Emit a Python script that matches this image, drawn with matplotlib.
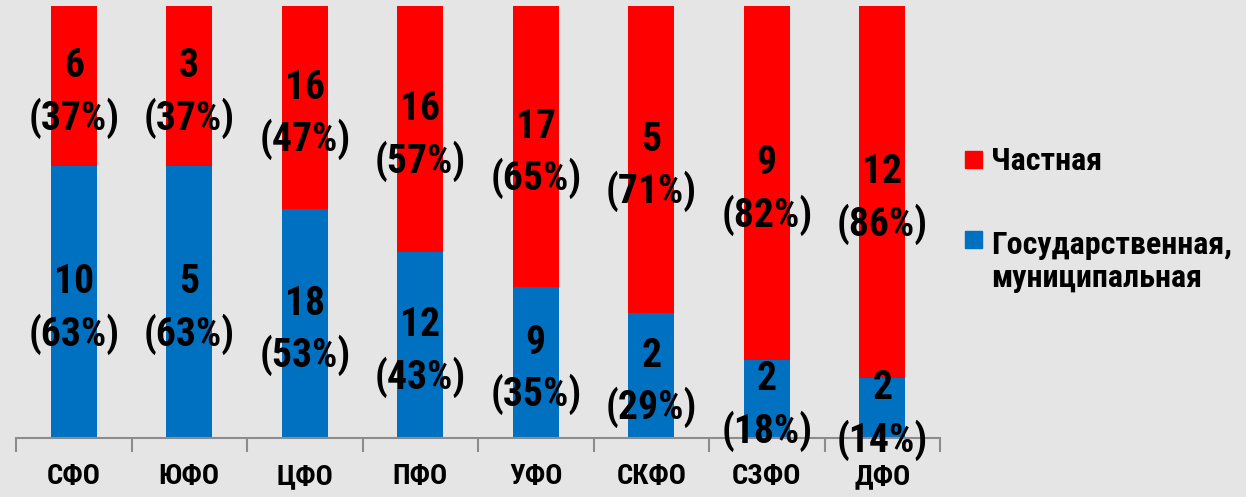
import matplotlib
matplotlib.use('Agg')
from matplotlib import pyplot as plt
from matplotlib import font_manager
from matplotlib.patches import Rectangle

# данные
okruga = ['СФО', 'ЮФО', 'ЦФО', 'ПФО', 'УФО', 'СКФО', 'СЗФО', 'ДФО']
gos_n = [10, 5, 18, 12, 9, 2, 2, 2]
gos_pct = [63, 63, 53, 43, 35, 29, 18, 14]
chast_n = [6, 3, 16, 16, 17, 5, 9, 12]
chast_pct = [37, 37, 47, 57, 65, 71, 82, 86]
legenda = ['Частная', 'Государственная,\nмуниципальная']

# ищем узкий шрифт, как Arial Narrow
names = {f.name for f in font_manager.fontManager.ttflist}
narrow = [n for n in ['Liberation Sans Narrow', 'Roboto Condensed', 'Open Sans Condensed']
          if n in names]
if narrow:
    fam = [narrow[0], 'DejaVu Sans']
else:
    fam = ['Liberation Sans', 'DejaVu Sans']
plt.rcParams['font.family'] = fam

bg = '#E5E5E5'
red = '#FF0000'
blue = '#0070C0'
W, H = 1246, 497

fig = plt.figure(figsize=(W / 100, H / 100), dpi=100, facecolor=bg)
ax = fig.add_axes([16 / W, 59 / H, 924 / W, 432 / H])
ax.set_facecolor(bg)

x = list(range(len(okruga)))
ax.bar(x, gos_pct, width=0.4, color=blue)
ax.bar(x, chast_pct, width=0.4, bottom=gos_pct, color=red)

# подписи чуть ниже центра сегмента (сдвиг в пикселях)
for i in x:
    ax.annotate('%d\n(%d%%)' % (gos_n[i], gos_pct[i]), (i, gos_pct[i] / 2),
                xytext=(0, -7), textcoords='offset pixels',
                ha='center', va='center', fontsize=28.5, fontweight='bold',
                linespacing=1.38)
    ax.annotate('%d\n(%d%%)' % (chast_n[i], chast_pct[i]), (i, gos_pct[i] + chast_pct[i] / 2),
                xytext=(0, -7), textcoords='offset pixels',
                ha='center', va='center', fontsize=28.5, fontweight='bold',
                linespacing=1.38)

ax.set_xlim(-0.5, len(okruga) - 0.5)
ax.set_ylim(0, 100)
ax.set_yticks([])
for s in ['top', 'right', 'left']:
    ax.spines[s].set_visible(False)
ax.spines['bottom'].set_color('#8C8C8C')
ax.spines['bottom'].set_linewidth(1.5)
ax.set_xticks(x)
ax.set_xticklabels(okruga, fontsize=20.5, fontweight='bold')
ax.tick_params(axis='x', which='major', length=0, pad=18)
ax.set_xticks([i - 0.5 for i in range(len(okruga) + 1)], minor=True)
ax.tick_params(axis='x', which='minor', length=10, width=1.5, color='#8C8C8C')

# легенда: квадрат напротив первой строки подписи
for col, lab, yc, yb in [(red, legenda[0], 159.5, 170), (blue, legenda[1], 239, 254)]:
    fig.patches.append(Rectangle((965 / W, 1 - (yc + 8.5) / H), 17 / W, 17 / H,
                                 transform=fig.transFigure, color=col))
    for k, line in enumerate(lab.split('\n')):
        fig.text(991 / W, 1 - (yb + 33 * k) / H, line, ha='left', va='baseline',
                 fontsize=23, fontweight='bold')

fig.savefig('out.png', dpi=100, facecolor=bg)
